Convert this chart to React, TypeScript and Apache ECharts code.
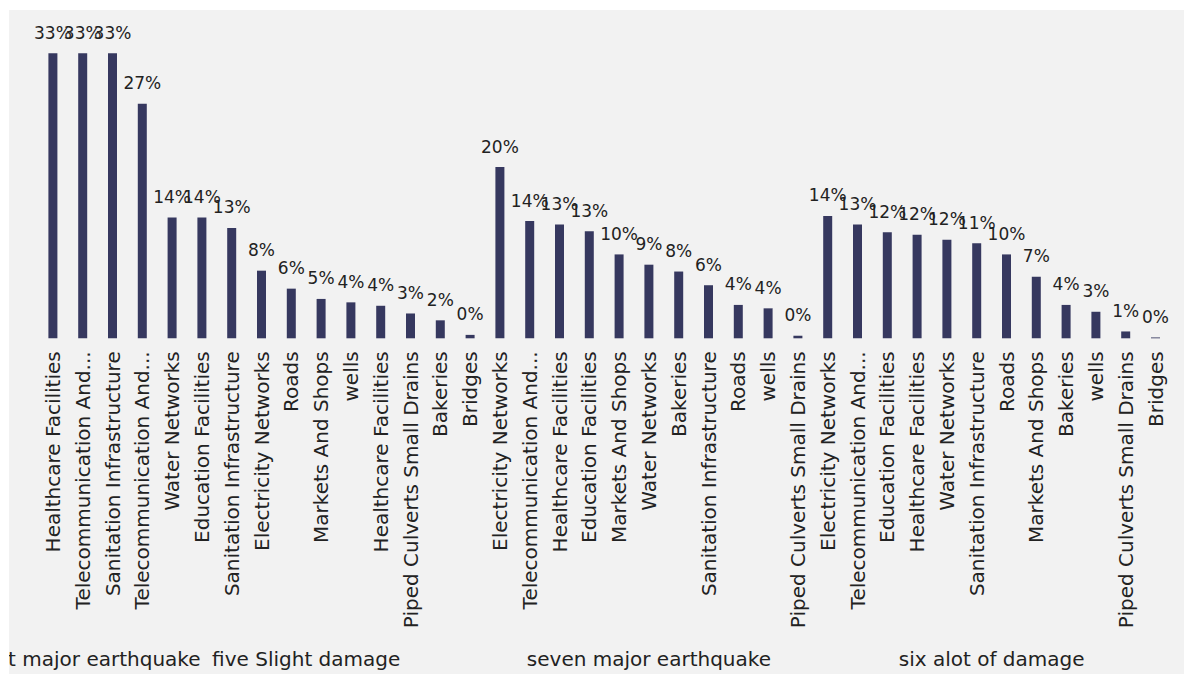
import React, { useEffect, useRef } from "react";
import * as echarts from "echarts";

// Group labels (outer category level)
const groupNames = [
  "eight major earthquake",
  "five Slight damage",
  "seven major earthquake",
  "six alot of damage",
];

// Inner categories per group
const eightCats = ["Healthcare Facilities", "Telecommunication And Information Technology", "Sanitation Infrastructure"];
const eightVals = [33.3, 33.3, 33.3];

const fiveCats = [
  "Telecommunication And Information Technology", "Water Networks", "Education Facilities", "Sanitation Infrastructure",
  "Electricity Networks", "Roads", "Markets And Shops", "wells", "Healthcare Facilities",
  "Piped Culverts Small Drains", "Bakeries", "Bridges",
];
const fiveVals = [27.4, 14.1, 14.1, 12.9, 7.9, 5.8, 4.6, 4.2, 3.8, 2.9, 2.1, 0.4];

const sevenCats = [
  "Electricity Networks", "Telecommunication And Information Technology", "Healthcare Facilities", "Education Facilities",
  "Markets And Shops", "Water Networks", "Bakeries", "Sanitation Infrastructure", "Roads", "wells",
  "Piped Culverts Small Drains",
];
const sevenVals = [20.0, 13.7, 13.3, 12.5, 9.8, 8.6, 7.8, 6.2, 3.9, 3.5, 0.3];

const sixCats = [
  "Electricity Networks", "Telecommunication And Information Technology", "Education Facilities", "Healthcare Facilities",
  "Water Networks", "Sanitation Infrastructure", "Roads", "Markets And Shops", "Bakeries", "wells",
  "Piped Culverts Small Drains", "Bridges",
];
const sixVals = [14.3, 13.3, 12.4, 12.1, 11.5, 11.1, 9.8, 7.2, 3.9, 3.1, 0.8, 0.1];

const groupCats = [eightCats, fiveCats, sevenCats, sixCats];
const groupVals = [eightVals, fiveVals, sevenVals, sixVals];

export default function App() {
  const ref = useRef<HTMLDivElement>(null);

  useEffect(() => {
    if (!ref.current) return;
    const chart = echarts.init(ref.current, undefined, { renderer: "svg" });

    const categories: string[] = [];
    const values: number[] = [];
    const centers: { pos: number; name: string }[] = [];
    groupCats.forEach((cats, gi) => {
      const start = categories.length;
      cats.forEach((c, i) => {
        categories.push(c);
        values.push(groupVals[gi][i]);
      });
      centers.push({ pos: start + (cats.length - 1) / 2, name: groupNames[gi] });
    });
    const n = categories.length;

    const font = "DejaVu Sans";
    const textColor = "#222222";

    chart.setOption({
      animation: false,
      backgroundColor: "#f2f2f2",
      grid: {
        left: 29,
        right: 13.6,
        top: 28.7,
        bottom: 335.7,
        containLabel: false,
        outerBoundsMode: "none",
      },
      xAxis: [
        {
          type: "category",
          data: categories,
          axisLine: { show: false },
          axisTick: { show: false },
          axisLabel: {
            interval: 0,
            rotate: 90,
            margin: 13,
            fontFamily: font,
            fontSize: 20,
            color: textColor,
            formatter: (name: string) =>
              name.length > 30 ? name.split(" ").slice(0, 2).join(" ") + "..." : name,
          },
        },
        {
          type: "value",
          position: "bottom",
          min: -0.5,
          max: n - 0.5,
          interval: 0.5,
          axisLine: { show: false },
          axisTick: { show: false },
          splitLine: { show: false },
          axisLabel: {
            margin: 311,
            fontFamily: font,
            fontSize: 20,
            color: textColor,
            showMinLabel: true,
            showMaxLabel: true,
            formatter: (v: number) => {
              const g = centers.find((c) => Math.abs(c.pos - v) < 1e-6);
              return g ? g.name : "";
            },
          },
        },
      ],
      yAxis: {
        type: "value",
        min: 0,
        max: 35,
        show: false,
        splitLine: { show: false },
      },
      series: [
        {
          type: "bar",
          xAxisIndex: 0,
          data: values,
          barWidth: 9,
          itemStyle: { color: "#36385f" },
          label: {
            show: true,
            position: "top",
            distance: 12,
            fontFamily: font,
            fontSize: 17,
            color: textColor,
            formatter: (p: any) => Math.round(p.value) + "%",
          },
        },
      ],
    });

    return () => chart.dispose();
  }, []);

  return (
    <div
      ref={ref}
      style={{ position: "fixed", left: 9, top: 10, width: 1175, height: 664 }}
    />
  );
}
